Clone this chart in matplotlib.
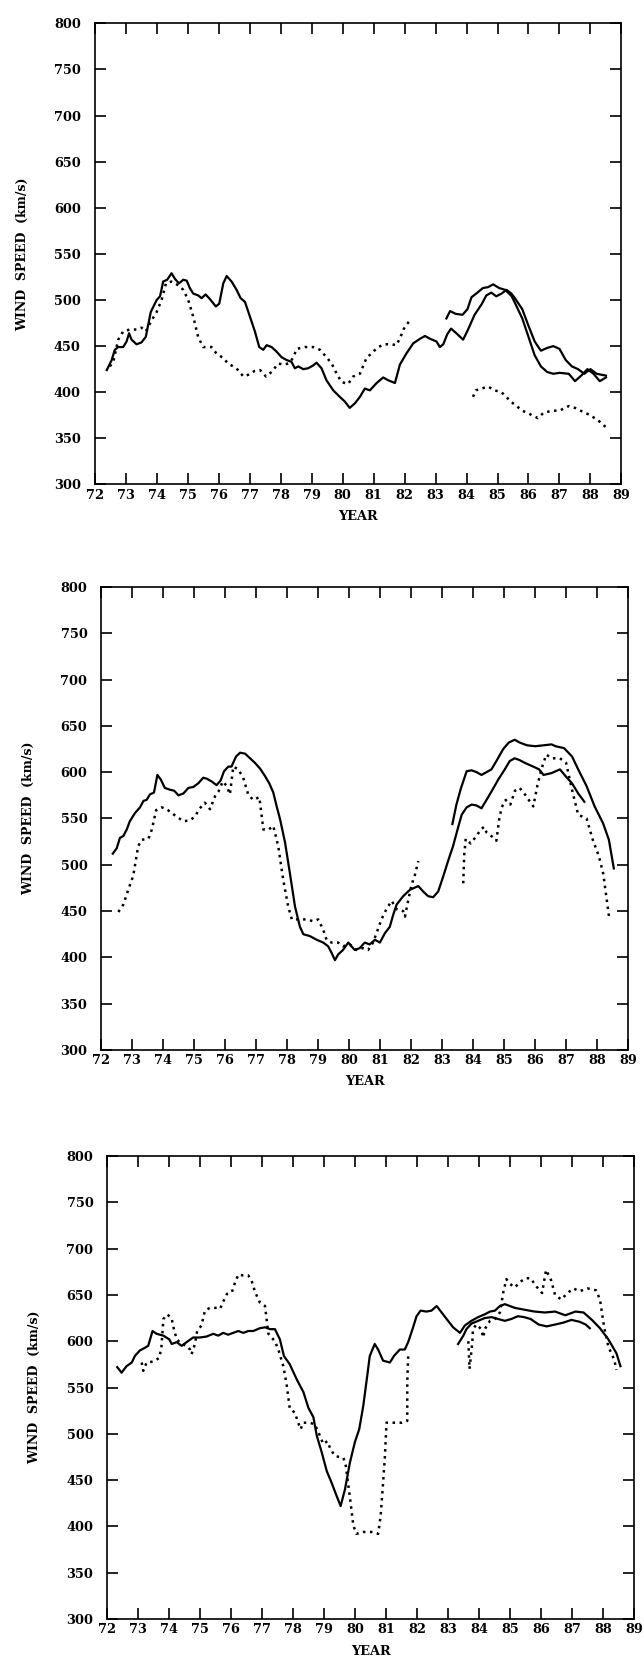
import matplotlib
matplotlib.use('Agg')
import matplotlib.pyplot as plt
import numpy as np

plt.rcParams['font.family'] = ['DejaVu Serif']
plt.rcParams['font.weight'] = 'bold'

# ---- panel 1 ----
p1_solid_a_x = [72.39, 72.55, 72.65, 72.76, 72.92, 73.03, 73.11, 73.19, 73.35, 73.51, 73.65, 73.81, 74.0, 74.11,
                74.21, 74.34, 74.48, 74.59, 74.72, 74.86, 74.97, 75.07, 75.18, 75.34, 75.45, 75.58, 75.72, 75.91,
                76.02, 76.15, 76.26, 76.42, 76.58, 76.71, 76.85, 77.01, 77.17, 77.31, 77.44, 77.55, 77.71, 77.87,
                78.03, 78.19, 78.35, 78.46, 78.57, 78.73, 78.89, 79.05, 79.16, 79.32, 79.48, 79.7, 79.91, 80.07,
                80.23, 80.4, 80.56, 80.72, 80.88, 81.1, 81.31, 81.47, 81.69, 81.85, 82.06, 82.28, 82.5, 82.66,
                82.82, 83.03, 83.14, 83.25, 83.38, 83.5, 83.67, 83.89, 84.05, 84.26, 84.48, 84.64, 84.8, 84.96,
                85.13, 85.29, 85.45, 85.56, 85.8, 86.0, 86.2, 86.4, 86.6, 86.8, 87.0, 87.2, 87.4, 87.6, 87.8,
                88.0, 88.2, 88.5]
p1_solid_a_y = [424, 435, 446, 449, 449, 455, 464, 457, 452, 454, 460, 487, 500, 504,
                520, 522, 529, 523, 518, 522, 521, 513, 507, 505, 502, 506, 501, 493,
                496, 518, 526, 520, 511, 502, 498, 482, 466, 449, 446, 451, 449, 444,
                438, 435, 433, 426, 428, 425, 426, 429, 432, 426, 413, 402, 395, 390,
                383, 388, 395, 404, 402, 410, 416, 413, 410, 430, 442, 453, 458, 461,
                458, 455, 449, 452, 463, 469, 464, 457, 468, 484, 495, 505, 508, 504,
                507, 511, 507, 502, 490, 472, 455, 445, 448, 450, 447, 435, 428, 425, 420,
                425, 420, 418]
p1_solid_b_x = [83.35, 83.47, 83.65, 83.87, 84.03, 84.16, 84.35, 84.53, 84.7, 84.86, 85.05, 85.25, 85.46, 85.56,
                85.8, 86.0, 86.2, 86.4, 86.6, 86.8, 87.0, 87.3, 87.5, 87.7, 87.9, 88.1, 88.3, 88.5]
p1_solid_b_y = [480, 488, 485, 484, 490, 503, 508, 513, 514, 517, 513, 511, 504, 497,
                480, 460, 440, 428, 422, 420, 421, 420, 412, 418, 425, 420, 412, 416]
p1_dot_a_x = [72.49, 72.6, 72.76, 72.92, 73.14, 73.35, 73.51, 73.65, 73.84, 74.0, 74.16, 74.3, 74.48, 74.7,
              74.86, 75.02, 75.18, 75.34, 75.5, 75.77, 75.93, 76.15, 76.31, 76.47, 76.63, 76.8, 76.96, 77.16,
              77.34, 77.53, 77.71, 77.92, 78.14, 78.3, 78.41, 78.52, 78.79, 79.05, 79.27, 79.48, 79.65, 79.81,
              79.97, 80.18, 80.34, 80.56, 80.77, 80.99, 81.15, 81.36, 81.58, 81.74, 81.87, 81.98, 82.15]
p1_dot_a_y = [428, 433, 457, 466, 468, 468, 470, 466, 478, 487, 500, 518, 520, 516,
              511, 500, 482, 460, 449, 449, 442, 437, 431, 428, 424, 417, 419, 423,
              424, 417, 422, 431, 430, 432, 438, 447, 449, 449, 446, 438, 431, 420,
              411, 409, 417, 420, 437, 444, 449, 452, 452, 451, 460, 469, 477]
p1_dot_b_x = [84.21, 84.3, 84.48, 84.7, 84.91, 85.13, 85.34, 85.5, 85.8, 86.0, 86.3, 86.5, 86.8, 87.0,
              87.3, 87.5, 87.8, 88.0, 88.3, 88.5]
p1_dot_b_y = [395, 402, 404, 406, 402, 400, 393, 388, 380, 377, 372, 378, 380, 380,
              385, 383, 378, 375, 368, 362]

# ---- panel 2 ----
p2_solid_a_x = [72.37, 72.5, 72.6, 72.71, 72.82, 72.92, 73.09, 73.25, 73.36, 73.46, 73.57, 73.7, 73.81, 73.92,
                74.05, 74.22, 74.35, 74.49, 74.65, 74.81, 74.97, 75.13, 75.29, 75.4, 75.56, 75.72, 75.85, 75.96,
                76.1, 76.2, 76.35, 76.48, 76.64, 76.8, 76.96, 77.12, 77.28, 77.42, 77.55, 77.66, 77.77, 77.93,
                78.09, 78.25, 78.41, 78.52, 78.73, 78.95, 79.16, 79.32, 79.43, 79.54, 79.64, 79.8, 79.97, 80.07,
                80.18, 80.34, 80.5, 80.66, 80.83, 80.99, 81.15, 81.31, 81.42, 81.53, 81.74, 81.96, 82.23, 82.39,
                82.55, 82.71, 82.87, 83.03, 83.19, 83.35, 83.52, 83.63, 83.79, 83.95, 84.11, 84.27, 84.43, 84.59,
                84.81, 85.02, 85.18, 85.34, 85.5, 85.67, 85.94, 86.13, 86.27, 86.53, 86.8, 87.0, 87.19, 87.39,
                87.59]
p2_solid_a_y = [512, 518, 529, 531, 538, 547, 556, 562, 569, 570, 576, 578, 597, 592,
                583, 581, 580, 575, 577, 583, 584, 588, 594, 593, 590, 586, 591, 601,
                606, 606, 617, 621, 620, 615, 610, 604, 596, 588, 578, 563, 549, 524,
                490, 455, 433, 425, 423, 419, 416, 412, 405, 397, 403, 408, 416, 412,
                408, 410, 416, 414, 419, 416, 426, 433, 446, 457, 466, 473, 477, 471,
                466, 465, 471, 487, 504, 520, 541, 554, 562, 565, 564, 561, 570, 579,
                592, 603, 612, 615, 613, 610, 606, 603, 597, 599, 603, 595, 588, 577,
                568]
p2_solid_b_x = [83.33, 83.46, 83.6, 83.79, 83.95, 84.11, 84.27, 84.43, 84.59, 84.75, 84.97, 85.15, 85.34, 85.5,
                85.74, 86.0, 86.27, 86.53, 86.66, 86.93, 87.19, 87.39, 87.66, 87.92, 88.19, 88.38, 88.54]
p2_solid_b_y = [544, 565, 582, 601, 602, 600, 597, 600, 603, 612, 625, 632, 635, 632,
                629, 628, 629, 630, 628, 626, 617, 603, 585, 563, 545, 527, 496]
p2_dot_a_x = [72.55, 72.71, 72.87, 73.03, 73.19, 73.3, 73.52, 73.63, 73.77, 73.95, 74.11, 74.27, 74.43, 74.65,
              74.86, 75.02, 75.18, 75.34, 75.51, 75.67, 75.78, 75.92, 76.05, 76.15, 76.26, 76.42, 76.58, 76.74,
              76.9, 77.1, 77.23, 77.4, 77.55, 77.71, 77.87, 78.03, 78.15, 78.25, 78.41, 78.62, 78.84, 79.0,
              79.16, 79.27, 79.43, 79.64, 79.8, 80.02, 80.23, 80.45, 80.61, 80.77, 80.88, 81.04, 81.2, 81.37,
              81.53, 81.74, 81.8, 81.9, 82.01, 82.12, 82.23]
p2_dot_a_y = [449, 457, 473, 488, 520, 527, 528, 538, 559, 562, 560, 556, 552, 547,
              548, 552, 561, 567, 560, 574, 579, 590, 585, 576, 606, 603, 594, 576,
              570, 573, 538, 538, 542, 520, 484, 455, 441, 441, 441, 441, 439, 441,
              430, 419, 416, 416, 412, 414, 408, 410, 408, 416, 426, 441, 452, 461,
              452, 450, 444, 461, 478, 489, 504]
p2_dot_b_x = [83.68, 83.71, 83.76, 83.92, 84.08, 84.25, 84.35, 84.43, 84.59, 84.75, 84.84, 84.92, 85.05, 85.2,
              85.35, 85.5, 85.67, 85.94, 86.07, 86.2, 86.36, 86.53, 86.8, 87.0, 87.19, 87.39, 87.66, 87.86,
              88.06, 88.2, 88.4]
p2_dot_b_y = [480, 510, 528, 523, 530, 538, 541, 535, 531, 526, 549, 562, 570, 565,
              580, 583, 576, 563, 585, 603, 619, 615, 615, 610, 581, 554, 550, 527,
              509, 490, 440]

# ---- panel 3 ----
p3_solid_a_x = [72.32, 72.46, 72.62, 72.79, 72.89, 73.05, 73.22, 73.32, 73.46, 73.59, 73.81, 74.0, 74.08, 74.24,
                74.4, 74.56, 74.77, 74.99, 75.2, 75.42, 75.58, 75.74, 75.9, 76.06, 76.23, 76.39, 76.55, 76.71,
                76.92, 77.09, 77.25, 77.41, 77.57, 77.7, 77.89, 78.11, 78.33, 78.49, 78.65, 78.76, 78.92, 79.08,
                79.24, 79.4, 79.53, 79.67, 79.83, 79.99, 80.13, 80.26, 80.39, 80.47, 80.63, 80.74, 80.9, 81.12,
                81.25, 81.44, 81.6, 81.71, 81.85, 81.98, 82.11, 82.3, 82.46, 82.63, 82.79, 82.95, 83.16, 83.38,
                83.54, 83.75, 83.97, 84.18, 84.35, 84.51, 84.67, 84.83, 84.99, 85.15, 85.46, 85.79, 86.12, 86.45,
                86.78, 87.11, 87.37, 87.64, 87.9, 88.17, 88.43, 88.56]
p3_solid_a_y = [572, 566, 573, 577, 584, 590, 593, 595, 611, 608, 606, 602, 597, 599,
                595, 599, 604, 604, 605, 608, 606, 609, 607, 609, 611, 609, 611, 611,
                614, 615, 613, 613, 602, 584, 575, 559, 545, 528, 518, 498, 480, 460,
                447, 433, 422, 440, 469, 491, 505, 530, 563, 584, 597, 591, 579, 577,
                584, 591, 591, 599, 613, 627, 633, 632, 633, 638, 631, 624, 615, 609,
                617, 622, 626, 629, 632, 633, 638, 640, 638, 636, 634, 632, 631, 632,
                628, 632, 631, 623, 614, 602, 587, 573]
p3_solid_b_x = [83.32, 83.49, 83.59, 83.75, 83.97, 84.18, 84.4, 84.61, 84.83, 85.04, 85.25, 85.45, 85.66, 85.92,
                86.18, 86.45, 86.71, 86.98, 87.24, 87.44, 87.57]
p3_solid_b_y = [597, 606, 613, 619, 622, 625, 626, 624, 622, 624, 627, 626, 624, 618,
                616, 618, 620, 623, 621, 618, 614]
p3_dot_a_x = [73.11, 73.16, 73.27, 73.48, 73.68, 73.75, 73.81, 73.94, 74.08, 74.15, 74.24, 74.4, 74.56, 74.67,
              74.72, 74.83, 74.9, 75.04, 75.15, 75.31, 75.53, 75.64, 75.76, 75.86, 76.02, 76.12, 76.23, 76.39,
              76.55, 76.66, 76.77, 76.92, 77.09, 77.14, 77.2, 77.3, 77.41, 77.52, 77.68, 77.78, 77.89, 78.05,
              78.16, 78.24, 78.32, 78.54, 78.7, 78.86, 78.97, 79.1, 79.21, 79.35, 79.62, 79.7, 79.78, 79.85,
              79.94, 80.04, 80.25, 80.52, 80.74, 80.82, 80.9, 80.96, 81.01, 81.23, 81.5, 81.68, 81.68, 81.71]
p3_dot_a_y = [577, 568, 577, 578, 582, 595, 624, 629, 624, 613, 602, 597, 595, 591,
              586, 597, 611, 617, 633, 636, 636, 635, 644, 651, 653, 663, 672, 671,
              671, 665, 653, 642, 638, 624, 608, 604, 600, 591, 573, 555, 527, 523,
              512, 505, 512, 512, 510, 498, 489, 492, 483, 476, 474, 465, 444, 426,
              401, 392, 394, 394, 392, 411, 447, 476, 512, 512, 512, 514, 555, 584]
p3_dot_b_x = [83.65, 83.69, 83.78, 83.8, 83.91, 84.07, 84.13, 84.18, 84.35, 84.51, 84.67, 84.78, 84.88, 84.99,
              85.15, 85.32, 85.5, 85.66, 85.85, 86.03, 86.16, 86.32, 86.45, 86.65, 86.85, 87.04, 87.24, 87.5,
              87.77, 87.9, 88.03, 88.17, 88.36, 88.43]
p3_dot_b_y = [600, 570, 599, 613, 618, 613, 604, 613, 622, 624, 631, 653, 667, 662,
              658, 664, 668, 668, 659, 652, 677, 666, 650, 645, 652, 657, 654, 657,
              655, 645, 616, 594, 580, 569]

panels = [
    {'pos': [0.147, 0.708, 0.818, 0.2779],
     'solid': [(p1_solid_a_x, p1_solid_a_y), (p1_solid_b_x, p1_solid_b_y)],
     'dotted': [(p1_dot_a_x, p1_dot_a_y), (p1_dot_b_x, p1_dot_b_y)]},
    {'pos': [0.1573, 0.3671, 0.818, 0.2791],
     'solid': [(p2_solid_a_x, p2_solid_a_y), (p2_solid_b_x, p2_solid_b_y)],
     'dotted': [(p2_dot_a_x, p2_dot_a_y), (p2_dot_b_x, p2_dot_b_y)]},
    {'pos': [0.1666, 0.0241, 0.818, 0.2791],
     'solid': [(p3_solid_a_x, p3_solid_a_y), (p3_solid_b_x, p3_solid_b_y)],
     'dotted': [(p3_dot_a_x, p3_dot_a_y), (p3_dot_b_x, p3_dot_b_y)]},
]

fig = plt.figure(figsize=(6.44, 16.59), dpi=100)

for p in panels:
    ax = fig.add_axes(p['pos'])
    for x, y in p['solid']:
        ax.plot(x, y, color='black', lw=1.6)
    for x, y in p['dotted']:
        ax.plot(x, y, color='black', lw=1.8, linestyle=(0, (1, 1.8)))
    ax.set_xlim(72, 89)
    ax.set_ylim(300, 800)
    ax.set_xticks(np.arange(72, 90))
    ax.set_yticks(np.arange(300, 801, 50))
    ax.tick_params(direction='in', top=True, right=True, length=8, width=1.2,
                   labelsize=9.3, colors='black')
    ax.tick_params(axis='y', pad=10)
    ax.tick_params(axis='x', pad=3)
    for s in ax.spines.values():
        s.set_linewidth(1.2)
    for lab in ax.get_xticklabels() + ax.get_yticklabels():
        lab.set_fontweight('bold')
    ax.set_xlabel('YEAR', fontsize=9.3, fontweight='bold', labelpad=6)
    ax.set_ylabel('WIND  SPEED  (km/s)', fontsize=9, fontweight='bold')
    ax.yaxis.set_label_coords(-0.125, 0.5)

fig.savefig('out.png', dpi=100)
